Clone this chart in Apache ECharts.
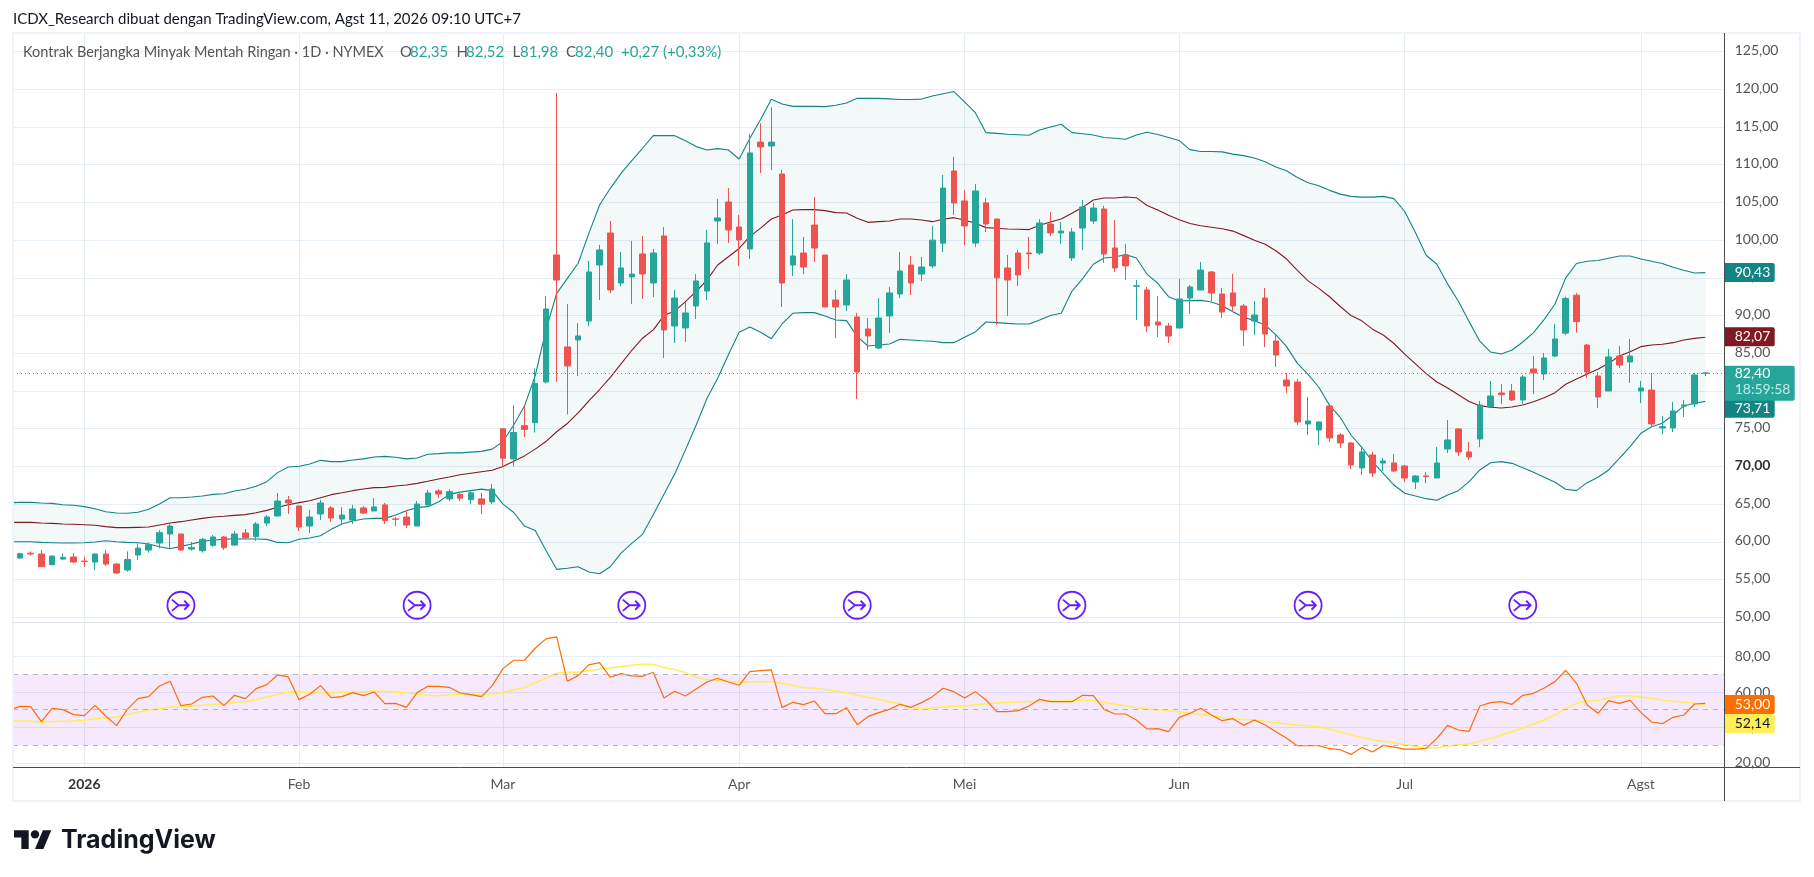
<!DOCTYPE html>
<html><head><meta charset="utf-8">
<style>html,body{margin:0;padding:0;background:#fff}#c{width:1814px;height:877px}</style>
<script src="https://cdn.jsdelivr.net/npm/echarts@6/dist/echarts.min.js"></script>
</head><body><div id="c"></div>
<script>
// candles, index 0..157 (weekdays up to Agst 11, 2026)
const opens=[57.86,58.5,58.39,56.97,57.73,58.0,57.45,57.33,58.39,57.06,
56.27,58.26,58.92,59.85,61.04,61.05,59.05,58.83,59.54,60.65,
59.58,61.18,60.69,62.5,63.43,65.55,64.76,62.1,63.7,64.5,
63.03,62.9,64.5,64.1,64.9,63.05,63.3,62.1,64.9,66.75,
65.7,66.3,65.6,65.7,65.3,75,71,75.4,75.8,81.2,
98.04,85.84,86.77,89.28,96.71,100.95,94.32,95.12,98.17,94.32,
100.55,88.62,88.36,91.27,93.26,102.54,105.06,101.75,98.83,113.0,
112.48,108.77,96.7,98.3,102.0,98.03,92.07,91.4,89.82,88.22,
85.7,89.95,92.86,96.71,95.5,96.58,99.6,109.17,105.19,99.62,
104.93,102.8,96.31,98.3,98.3,98.3,102.14,100.95,97.64,101.6,
102.54,104.13,98.96,98.03,93.9,93.39,89.15,88.62,88.35,92.33,
93.39,95.78,92.86,93.0,91.27,89.28,92.33,86.63,81.46,81.2,
75.63,74.83,78.02,74.17,73.11,69.8,71.52,70.46,70.46,70.06,
67.94,68.75,68.47,72.31,74.97,71.92,73.64,77.88,79.74,80.0,
78.81,82.92,82.26,84.64,87.67,92.7,86.1,81.99,80.0,84.64,
83.85,80.0,80.13,75.1,75.1,78.0,78.28,82.35];
const closes=[58.43,58.4,56.71,58.12,57.95,57.33,57.4,58.39,57.06,55.87,
57.68,59.18,59.63,61.22,62.1,58.92,59.27,60.34,60.65,59.23,
61.05,60.55,62.37,63.3,65.42,65.16,61.97,63.3,65.16,63.17,
63.56,64.36,63.83,64.63,62.82,63.0,62.24,65.02,66.48,66.35,
66.66,65.8,66.5,65.0,67.0,71.1,74.5,74.9,81,90.88,
94.72,83.32,87.3,95.78,98.7,93.4,96.31,95.5,95.52,98.3,
88.09,92.33,90.35,94.59,99.63,102.94,101.35,100.02,111.56,112.35,
113.0,94.32,97.9,96.44,98.96,91.14,91.14,94.72,82.52,87.3,
89.68,93.0,95.91,94.32,96.44,100.0,106.9,104.93,101.88,106.52,
102.14,95.0,94.72,95.38,98.2,102.28,100.95,101.21,101.08,104.4,
104.26,98.17,96.31,96.58,93.96,88.62,88.75,87.29,92.2,93.79,
96.04,93.0,90.47,91.27,88.09,90.08,87.56,84.77,80.67,75.89,
76.03,75.89,73.77,73.11,70.19,71.92,69.13,70.72,69.4,68.47,
68.73,68.65,70.46,73.51,71.92,71.25,78.15,79.34,79.52,78.81,
81.86,82.39,84.38,86.9,92.27,89.2,82.52,79.21,84.51,83.45,
84.64,80.4,75.63,75.27,77.35,78.15,82.12,82.4];
const lows=[57.73,58.17,56.7,56.9,57.55,57.2,56.7,56.27,56.8,55.74,
56.05,57.6,58.57,59.14,59.14,58.83,58.83,58.57,59.36,58.92,
59.5,60.33,60.15,62.1,63.4,63.7,61.44,61.18,62.9,62.64,
62.37,62.37,63.7,64.1,62.37,62.1,61.84,62.1,64.63,65.82,
65.4,65.4,65.0,63.7,65.0,69.9,70,73.9,74.5,81,
81.2,76.9,82,88.6,92.07,93.0,93.9,91.54,92.2,92.47,
84.38,86.37,86.5,89.55,92.07,99.5,99.63,96.58,97.5,108.9,
109.3,91.14,95.25,95.5,97.1,91.14,87.03,90.6,78.94,85.44,
85.57,87.7,92.33,92.73,94.59,96.3,98.43,103.34,99.36,99.1,
101.08,88.75,89.95,93.92,96.18,98.03,100.55,99.5,97.24,98.7,
102.14,96.97,95.78,94.72,89.42,87.82,87.16,86.37,88.35,90.21,
93.39,91.93,89.68,90.47,85.97,87.43,85.84,83.18,79.74,75.5,
74.17,72.85,73.24,72.45,69.66,68.87,68.6,69.4,69.27,67.94,
67.0,67.8,68.47,71.78,71.39,70.86,72.58,77.88,78.28,78.68,
78.28,79.6,81.46,84.5,87.4,87.74,81.73,77.75,80.0,83.05,
81.06,78.4,75.23,74.3,74.57,76.56,77.88,81.98];
const highs=[58.57,58.74,58.92,58.2,58.48,58.48,58.03,58.48,58.92,57.2,
58.74,59.8,59.9,61.57,62.37,61.05,60.0,60.5,60.9,60.78,
61.45,61.7,62.63,63.56,66.48,66.08,64.8,64.23,65.55,64.76,
64.6,64.9,64.76,65.82,65.16,63.3,64.23,65.42,66.88,67.0,
67,66.6,66.8,66.5,67.7,75,78.1,78,83,92.6,
119.5,91.54,89,97.24,99.36,102.54,98.43,99.89,100.55,98.83,
101.75,93.4,91.8,95.5,101.35,105.46,106.9,103.34,114.08,115.5,
117.6,109.3,102.8,100.42,105.72,98.03,93.39,95.5,90.35,89.68,
92.33,93.8,98.43,97.9,97.77,101.88,108.64,111.03,106.65,107.45,
105.6,102.8,98.03,98.7,100.42,102.8,103.73,102.4,101.6,105.33,
104.93,104.53,102.67,99.5,94.72,93.79,92.6,89.02,94.85,94.05,
97.1,95.91,93.66,95.51,91.54,91.93,93.66,87.43,82.39,81.59,
79.2,76.03,78.02,74.44,73.24,72.45,71.92,71.12,71.65,70.19,
68.87,69.27,72.58,76.16,75.1,73.24,78.68,81.33,80.93,80.93,
82.12,84.64,85.04,88.9,92.5,93,86.23,82.52,85.57,85.97,
86.9,81.33,82.39,76.69,78.55,78.81,82.39,82.52];
// Bollinger bands, index -1..157
const bbUpper=[65.2,65.24,65.24,65.15,65.11,64.93,64.85,64.67,64.4,64.0,63.83,
63.79,63.92,64.32,65.02,65.86,65.86,65.95,66.08,66.3,66.39,
66.75,66.97,67.37,67.98,69.18,69.93,70.02,70.33,70.81,70.64,
70.64,70.86,71.0,71.25,71.34,71.21,71.0,71.12,71.61,71.7,
71.8,71.8,71.9,72.0,72.3,73.3,75.5,78,82,88.09,
92.95,94.94,96.93,100.9,104.66,106.87,108.86,110.54,112.18,113.85,
113.85,113.85,113.19,112.4,111.95,112.13,111.95,110.76,113.5,116,
118.67,118.04,117.73,117.73,117.73,117.7,117.88,118.19,118.8,118.8,
118.8,118.73,118.65,118.65,118.7,119.1,119.4,119.7,118.34,116.9,
114.25,114.15,114.03,113.97,113.9,114.6,115,115.36,114.25,114.1,
113.94,113.6,113.5,113.37,113.94,114.3,114.0,113.6,113.2,112.0,
111.75,111.75,111.7,111.4,111.2,110.9,110.4,109.7,109.2,108.3,
107.6,107.2,106.6,106.1,105.8,105.7,105.7,105.8,105.5,103.8,
101.0,98,96.8,94.2,91.9,89.2,86.6,85.17,84.9,85.43,
86.5,87.73,89.5,91.53,95.0,96.9,97.2,97.3,97.6,97.9,
97.9,97.5,97.2,96.9,96.4,96.0,95.65,95.7];
const bbBasis=[62.59,62.59,62.59,62.5,62.46,62.37,62.33,62.28,62.2,62.02,61.89,
61.89,61.93,61.97,62.24,62.5,62.68,62.9,63.12,63.3,63.39,
63.52,63.61,63.87,64.18,64.58,64.93,65.2,65.46,65.86,66.26,
66.52,66.79,67.01,67.19,67.23,67.41,67.54,67.76,68.03,68.34,
68.6,68.9,69.1,69.3,69.5,70.0,70.7,71.4,72.3,73.3,
74.6,75.7,77.1,78.7,80.2,81.8,83.6,85.4,87,88.1,
90.0,90.6,91.85,93.2,94.7,96.7,97.8,98.9,100.5,101.6,
102.8,103.34,104.0,104.04,104.04,103.91,103.65,103.6,102.9,102.36,
102.45,102.54,102.8,102.8,102.67,102.45,102.76,102.98,102.67,102.23,
101.66,101.57,101.48,101.44,101.4,101.97,102.41,102.8,103.56,104.35,
105.33,105.59,105.59,105.72,105.63,104.6,104,103.3,102.7,102.2,
101.9,101.7,101.5,101.2,100.6,100.0,99.45,98.6,97.5,96.0,
94.6,93.6,92.5,91.2,90.0,89.3,88.2,87.43,86.3,84.9,
83.6,82.3,81.2,80.4,79.5,78.6,78.06,77.84,77.75,77.88,
78.15,78.59,79.12,79.78,80.89,81.59,82.26,82.88,83.67,84.64,
85.2,85.88,86.1,86.19,86.41,86.76,86.98,87.12];
const bbLower=[60.02,60.02,60.02,59.93,59.89,59.85,59.85,59.89,59.98,60.16,60.02,
59.93,59.89,59.71,59.36,59.1,59.4,59.71,60.07,60.24,60.33,
60.42,60.38,60.38,60.33,59.93,59.89,60.34,60.52,60.82,61.66,
62.37,62.77,63.03,63.12,63.12,63.56,64.14,64.54,64.67,65.29,
66.3,66.6,66.8,67,66.8,65,63.9,62.1,61.5,58.9,
56.36,56.5,56.71,56,55.78,56.7,58.5,59.8,61,63.6,
66.3,69,72.2,75.5,79,81.7,84.8,87.78,88.49,87.78,
86.94,88.89,90.3,90.39,90.39,89.95,89.42,89.33,87.21,85.97,
86.1,86.23,86.85,86.76,86.67,86.59,86.41,86.41,87.12,87.83,
89.15,89.06,88.97,88.89,88.89,89.42,90.0,90.3,93.22,94.9,
96.8,97.64,97.77,98.08,97.64,95.47,94.28,92.51,91.93,91.98,
92.02,91.8,91.31,90.52,89.77,89.33,88.75,87.43,85.88,83.67,
82.2,80.5,78.1,76.5,74.17,72.54,70.64,69.09,67.54,66.44,
66.08,65.73,65.51,66.22,66.79,67.98,69.53,70.5,70.64,70.41,
69.84,69.22,68.56,67.9,66.97,66.79,67.85,68.56,69.53,71.08,
72.62,74.39,75.27,75.72,76.82,78.02,78.37,78.63];
// RSI and its moving average, index -1..157
const rsiLine=[49.83,51.9,51.71,43.22,50.77,50.02,47.19,46.62,52.47,46.43,40.96,
50.2,56.24,57.37,63.41,66.05,52.28,53.22,57.0,57.75,52.28,
58.13,56.24,61.9,64.17,69.64,68.51,55.68,58.69,63.6,56.81,
57.37,59.64,57.94,60.02,53.41,53.6,51.34,59.64,63.22,63.22,
62.66,59.45,58.51,57.37,63.6,73.22,77.94,77.94,84.73,90.02,
91.15,66.05,69.26,75.3,76.62,68.32,70.39,69.07,68.88,71.15,
56.62,60.39,57.75,61.71,65.68,67.75,65.68,63.79,71.52,72.09,
72.47,51.15,54.17,52.85,54.92,47.75,47.75,51.15,41.52,46.05,
48.32,50.2,53.03,51.34,53.98,57.37,62.09,60.2,56.62,60.2,
55.49,48.88,48.88,49.45,52.09,55.86,54.54,54.54,54.54,58.13,
57.94,50.2,47.56,47.56,44.17,39.07,39.26,37.56,45.68,47.94,
50.77,47.0,43.79,44.92,41.15,44.17,41.34,37.56,33.79,29.64,
29.64,29.64,27.94,27.37,24.73,28.69,26.05,29.83,28.88,27.75,
27.75,28.13,33.79,41.15,38.51,37.75,52.09,53.98,54.54,53.03,
58.13,59.26,62.28,65.86,72.28,64.92,52.66,47.94,55.11,53.6,
55.3,48.51,43.03,42.09,45.68,47.0,53.22,53.6];
const rsiMa=[43.6,43.6,43.6,42.85,43.22,43.41,43.6,43.98,44.92,45.3,45.86,
47.19,48.69,49.83,50.58,51.52,51.71,52.09,52.47,53.03,53.41,
54.17,54.54,55.68,57.19,58.51,59.83,60.02,59.64,59.45,59.64,
59.83,60.02,60.2,60.58,60.39,60.02,59.45,58.88,58.32,57.94,
58.51,58.69,58.69,58.32,58.88,59.83,61.15,62.47,65.3,67.75,
70.58,70.96,71.34,72.09,72.85,73.6,74.35,75.11,75.68,75.68,
73.79,72.66,70.96,68.51,67.0,66.62,66.05,65.49,65.68,65.86,
65.86,64.92,63.79,62.47,62.28,61.34,60.58,59.64,58.32,57.0,
55.86,54.54,53.22,51.34,50.39,50.96,51.52,51.9,51.9,52.85,
53.22,53.79,54.17,54.35,54.54,54.73,54.92,54.92,55.11,55.3,
55.11,54.17,53.03,52.09,51.15,50.58,49.83,49.26,48.69,48.13,
47.37,46.62,45.68,44.73,44.54,44.17,43.41,42.66,41.9,41.34,
40.96,40.39,39.07,37.37,35.68,34.35,33.03,32.09,31.34,30.2,
29.26,28.69,28.51,29.45,30.2,30.58,32.09,33.79,35.68,37.56,
39.64,41.9,44.17,47.0,50.77,53.6,54.92,55.3,56.81,57.75,
57.75,57.19,56.43,55.49,54.73,54.17,53.6,52.66];
// axis ticks and labels
const monthTickIdx=[6,26,45,67,88,108,129,151];
const monthLabels=['2026','Feb','Mar','Apr','Mei','Jun','Jul','Agst'];
const priceTicks=[50,55,60,65,70,75,80,85,90,95,100,105,110,115,120,125];
const rsiTicks=[20,40,60,80];
const eventIdx=[15,37,57,78,98,120,140];
const lastClose=82.40;

const X_MIN=-0.643, X_MAX=158.81;
const fmt=v=>v.toFixed(2).replace('.',',');
const FONT='Lato, "Open Sans", sans-serif';
const candles=opens.map((o,i)=>[i,o,closes[i],lows[i],highs[i]]);
const pairs=a=>a.map((v,k)=>[k-1,v]);
const EVENT_PATH='path://M13 1a12 12 0 1 0 0.01 0Z M5 8 L11 13 L20 13 M5 18 L11 13 M16 9 L20 13 L16 17';

// value tags on the price scale (pos = value at which the tag sits)
const priceTags=[
 {pos:95.7,lines:['90,43'],bg:'#138484',fg:'#fff',w:50,h:19},
 {pos:87.2,lines:['82,07'],bg:'#801922',fg:'#fff',w:50,h:19},
 {pos:77.7,lines:['73,71'],bg:'#138484',fg:'#fff',w:50,h:19},
 {pos:81.02,lines:['82,40','18:59:58'],bg:'#26a69a',fg:'#fff',fg2:'#c4e9e5',w:70,h:35}
];
const rsiTags=[
 {pos:52.95,lines:['53,00'],bg:'#ff6d00',fg:'#fff',w:50,h:19},
 {pos:42.2,lines:['52,14'],bg:'#ffee58',fg:'#131722',w:50,h:19}
];
function tagSeries(tags,xi,yi){
 return {type:'custom',xAxisIndex:xi,yAxisIndex:yi,z:20,silent:true,clip:false,
  data:tags.map(t=>[X_MAX,t.pos]),encode:{x:0,y:1},
  renderItem(p,api){
   const t=tags[p.dataIndex],c=api.coord([api.value(0),api.value(1)]);
   const top=c[1]-t.h/2,kids=[{type:'rect',shape:{x:c[0],y:top,width:t.w,height:t.h,r:[0,2,2,0]},style:{fill:t.bg}}];
   t.lines.forEach((s,i)=>kids.push({type:'text',style:{text:s,x:c[0]+10,y:top+(t.lines.length>1?(i?24:8):t.h/2),
     fill:i?t.fg2:t.fg,font:'14px '+FONT,verticalAlign:'middle'}}));
   return {type:'group',children:kids};
  }};
}

const grid0={left:13,width:1711.7,top:33,height:589.3};
const grid1={left:13,width:1711.7,top:622.3,height:144.7};
const gridLine={show:true,lineStyle:{color:'#e6eef5',width:1}};
const legendParts=[
 ['Kontrak Berjangka Minyak Mentah Ringan · 1D · NYMEX',23,'#555',14.5],
 ['O',400,'#555',15],['82,35',410,'#26a69a',15],
 ['H',456.5,'#555',15],['82,52',466,'#26a69a',15],
 ['L',512.5,'#555',15],['81,98',520,'#26a69a',15],
 ['C',566,'#555',15],['82,40',575,'#26a69a',15],
 ['+0,27',621,'#26a69a',15],['(+0,33%)',663,'#26a69a',15]
];
const option={
 animation:false,backgroundColor:'#fff',
 grid:[grid0,grid1],
 xAxis:[0,1].map(g=>({type:'value',gridIndex:g,min:X_MIN,max:X_MAX,
   axisLine:{show:false},
   axisTick:{show:false,customValues:monthTickIdx},
   axisLabel:g?{show:true,customValues:monthTickIdx,margin:10,color:'#555',fontFamily:FONT,fontSize:14,
      formatter:v=>{const s=monthLabels[monthTickIdx.indexOf(v)];return s==='2026'?'{b|'+s+'}':s;},
      rich:{b:{fontWeight:'bold',color:'#333',fontFamily:FONT,fontSize:14}}}:{show:false},
   splitLine:gridLine})),
 yAxis:[
  {type:'value',gridIndex:0,position:'right',min:49.34,max:127.46,
   axisLine:{show:false},axisTick:{show:false,customValues:priceTicks},
   axisLabel:{customValues:priceTicks,margin:10,padding:[0,0,2,0],color:'#555',fontFamily:FONT,fontSize:14,
     formatter:v=>v===70?'{b|'+fmt(v)+'}':fmt(v),rich:{b:{fontWeight:'bold',color:'#333',fontFamily:FONT,fontSize:14}}},
   splitLine:gridLine},
  {type:'value',gridIndex:1,position:'right',min:17.6,max:99.4,
   axisLine:{show:false},axisTick:{show:false,customValues:rsiTicks},
   axisLabel:{customValues:rsiTicks,margin:10,padding:[0,0,2,0],color:'#555',fontFamily:FONT,fontSize:14,formatter:fmt},
   splitLine:gridLine}
 ],
 series:[
  {type:'custom',name:'bbFill',xAxisIndex:0,yAxisIndex:0,clip:true,silent:true,z:1,data:[[0,bbLower[1]]],encode:{x:0,y:1},
   renderItem(p,api){
    const pts=bbUpper.map((v,k)=>api.coord([k-1,v]));
    for(let k=bbLower.length-1;k>=0;k--)pts.push(api.coord([k-1,bbLower[k]]));
    return {type:'polygon',shape:{points:pts},style:{fill:'rgba(19,132,132,0.05)'}};
   }},
  {type:'line',name:'upper',xAxisIndex:0,yAxisIndex:0,data:pairs(bbUpper),symbol:'none',silent:true,lineStyle:{color:'#138484',width:1.1},z:2},
  {type:'line',name:'lower',xAxisIndex:0,yAxisIndex:0,data:pairs(bbLower),symbol:'none',silent:true,lineStyle:{color:'#138484',width:1.1},z:2},
  {type:'line',name:'basis',xAxisIndex:0,yAxisIndex:0,data:pairs(bbBasis),symbol:'none',silent:true,lineStyle:{color:'#801922',width:1.1},z:2},
  {type:'candlestick',name:'CL',xAxisIndex:0,yAxisIndex:0,data:candles,encode:{x:0,y:[1,2,3,4]},barWidth:6,z:3,silent:true,
   itemStyle:{color:'#26a69a',color0:'#ef5350',borderColor:'#26a69a',borderColor0:'#ef5350',borderColorDoji:'#26a69a',borderWidth:1},
   markLine:{silent:true,symbol:'none',label:{show:false},data:[{yAxis:lastClose}],lineStyle:{color:'#26a69a',type:[1,3],width:1}}},
  {type:'scatter',name:'events',xAxisIndex:0,yAxisIndex:0,data:eventIdx.map(i=>[i,51.6]),symbol:EVENT_PATH,symbolSize:27,silent:true,z:4,
   itemStyle:{color:'rgba(0,0,0,0)',borderColor:'#651fff',borderWidth:1.8,opacity:1}},
  {type:'line',name:'rsiMa',xAxisIndex:1,yAxisIndex:1,data:pairs(rsiMa),symbol:'none',silent:true,lineStyle:{color:'#ffee58',width:1.5},z:3},
  {type:'line',name:'rsi',xAxisIndex:1,yAxisIndex:1,data:pairs(rsiLine),symbol:'none',silent:true,lineStyle:{color:'#ff6d00',width:1.2},z:4,
   markArea:{silent:true,itemStyle:{color:'rgba(170,50,235,0.11)',opacity:1},data:[[{yAxis:70},{yAxis:30}]]},
   markLine:{silent:true,symbol:'none',label:{show:false},lineStyle:{color:'#b2b5be',type:[5,5],width:1},data:[{yAxis:70},{yAxis:50},{yAxis:30}]}},
  tagSeries(priceTags,0,0),
  tagSeries(rsiTags,1,1)
 ],
 graphic:[
  {type:'rect',z:30,silent:true,shape:{x:13,y:33,width:1787,height:768},style:{fill:'none',stroke:'#f0f3fa',lineWidth:2}},
  {type:'line',z:30,silent:true,shape:{x1:13,y1:622.5,x2:1725,y2:622.5},style:{stroke:'#e0e3eb',lineWidth:1}},
  {type:'line',z:30,silent:true,shape:{x1:1724.5,y1:33,x2:1724.5,y2:801},style:{stroke:'#4a4a4f',lineWidth:1}},
  {type:'line',z:30,silent:true,shape:{x1:13,y1:767.5,x2:1800,y2:767.5},style:{stroke:'#4a4a4f',lineWidth:1}},
  {type:'text',z:30,silent:true,style:{text:'ICDX_Research dibuat dengan TradingView.com, Agst 11, 2026 09:10 UTC+7',x:13,y:12,fill:'#131722',font:'15px '+FONT}},
  ...legendParts.map(p=>({type:'text',z:30,silent:true,style:{text:p[0],x:p[1],y:45,fill:p[2],font:p[3]+'px '+FONT}})),
  {type:'group',z:30,silent:true,x:14,y:826,scaleX:1.05,scaleY:1.05,children:[
    {type:'polygon',shape:{points:[[14,22],[7,22],[7,11],[0,11],[0,4],[14,4]]},style:{fill:'#131722'}},
    {type:'polygon',shape:{points:[[28,22],[20,22],[27.5,4],[35.5,4]]},style:{fill:'#131722'}},
    {type:'circle',shape:{cx:20,cy:8,r:4},style:{fill:'#131722'}}]},
  {type:'text',z:30,silent:true,style:{text:'TradingView',x:61,y:828,fill:'#131722',font:'bold 25px Inter, '+FONT}}
 ]
};
echarts.init(document.getElementById('c'),null,{renderer:'canvas'}).setOption(option);
</script></body></html>
